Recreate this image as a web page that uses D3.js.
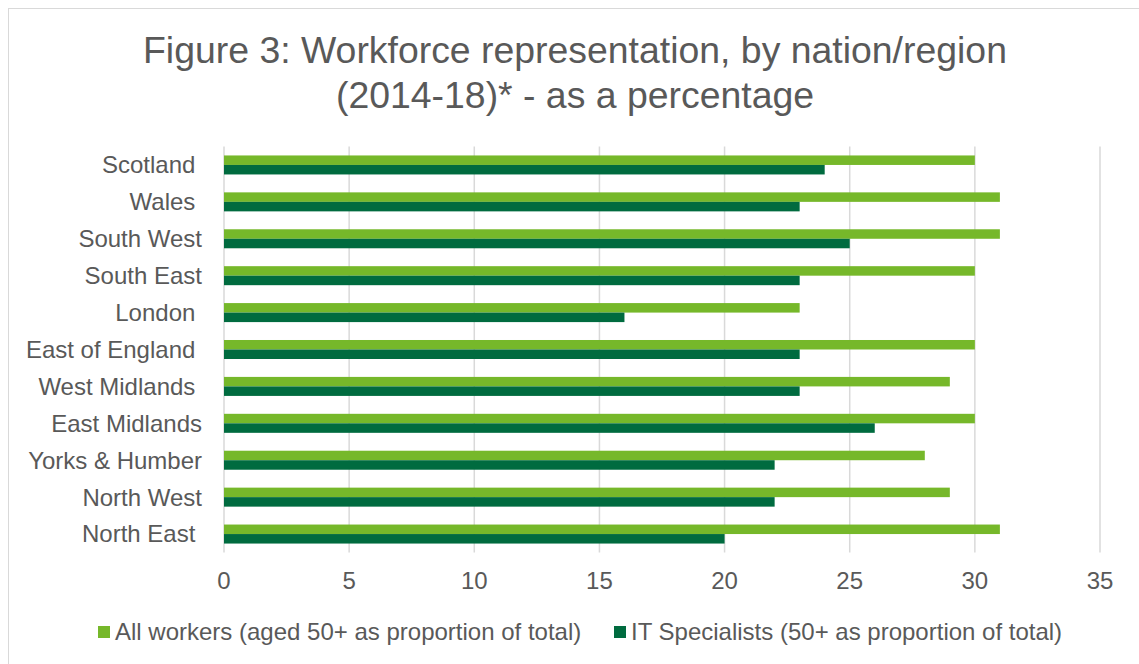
<!DOCTYPE html>
<html>
<head>
<meta charset="utf-8">
<script src="https://cdn.jsdelivr.net/npm/d3@7"></script>
<style>
  body { margin: 0; background: #fff; }
  svg text { font-family: "Liberation Sans", Arial, sans-serif; fill: #595959; white-space: pre; }
</style>
</head>
<body>
<div id="chart"></div>
<script>
// regions, top to bottom as drawn (trailing spaces are in the source labels)
var regions = ["Scotland ", "Wales ", "South West", "South East", "London ",
    "East of England ", "West Midlands ", "East Midlands", "Yorks & Humber",
    "North West", "North East "];
var allWorkers = [30, 31, 31, 30, 23, 30, 29, 30, 28, 29, 31];
var itSpecialists = [24, 23, 25, 23, 16, 23, 23, 26, 22, 22, 20];
var seriesNames = ["All workers (aged 50+ as proportion of total)",
    "IT Specialists (50+ as proportion of total)"];
var xTicks = [0, 5, 10, 15, 20, 25, 30, 35];

var width = 1139, height = 664;
var colors = ["#76b82a", "#006b3f"];

var svg = d3.select("#chart").append("svg")
    .attr("width", width)
    .attr("height", height);

// chart frame
svg.append("rect")
    .attr("x", 8.5).attr("y", 8.5)
    .attr("width", 1140).attr("height", 670)
    .attr("fill", "none")
    .attr("stroke", "#d9d9d9");

svg.append("text")
    .attr("x", 575).attr("y", 63)
    .attr("text-anchor", "middle")
    .style("font-size", "37.4px")
    .text("Figure 3: Workforce representation, by nation/region");
svg.append("text")
    .attr("x", 575).attr("y", 108)
    .attr("text-anchor", "middle")
    .style("font-size", "37.4px")
    .text("(2014-18)* - as a percentage");

var x = d3.scaleLinear().domain([0, 35]).range([224, 1100]);
var y = d3.scaleBand().domain(regions).range([146.5, 552.5]).paddingInner(0.485).paddingOuter(0.2425);
var inner = d3.scaleBand().domain([0, 1]).range([0, y.bandwidth()]);

// gridlines
svg.append("g").selectAll("line")
    .data(xTicks)
    .enter().append("line")
    .attr("x1", function (d) { return x(d); })
    .attr("x2", function (d) { return x(d); })
    .attr("y1", 146.5).attr("y2", 552.5)
    .attr("stroke", "#d9d9d9")
    .attr("stroke-width", 1.5);

var series = [allWorkers, itSpecialists];
series.forEach(function (vals, si) {
    svg.append("g").selectAll("rect")
        .data(vals)
        .enter().append("rect")
        .attr("x", x(0))
        .attr("y", function (d, i) { return y(regions[i]) + inner(si); })
        .attr("width", function (d) { return x(d) - x(0); })
        .attr("height", inner.bandwidth())
        .attr("fill", colors[si]);
});

// category labels
svg.append("g").selectAll("text")
    .data(regions)
    .enter().append("text")
    .attr("x", 202)
    .attr("y", function (d) { return y(d) + y.bandwidth() / 2; })
    .attr("dy", "0.35em")
    .attr("text-anchor", "end")
    .style("font-size", "24px")
    .text(function (d) { return d; });

// x axis labels
svg.append("g").selectAll("text")
    .data(xTicks)
    .enter().append("text")
    .attr("x", function (d) { return x(d); })
    .attr("y", 581)
    .attr("dy", "0.35em")
    .attr("text-anchor", "middle")
    .style("font-size", "24px")
    .text(function (d) { return d; });

// legend
var legendX = [98, 614];
var legend = svg.append("g").selectAll("g")
    .data(seriesNames)
    .enter().append("g")
    .attr("transform", function (d, i) { return "translate(" + legendX[i] + ",632)"; });
legend.append("rect")
    .attr("x", 0).attr("y", -6)
    .attr("width", 12).attr("height", 12)
    .attr("fill", function (d, i) { return colors[i]; });
legend.append("text")
    .attr("x", 17).attr("dy", "0.35em")
    .style("font-size", "24px")
    .text(function (d) { return d; });
</script>
</body>
</html>
